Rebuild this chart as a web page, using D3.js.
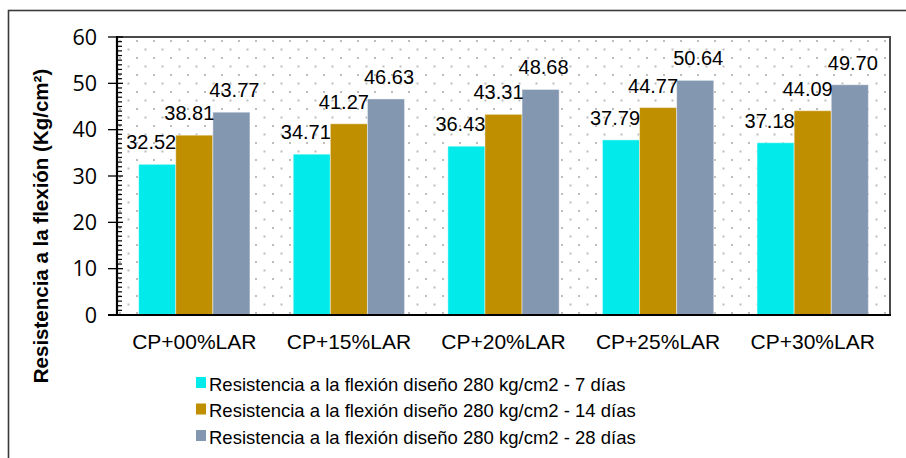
<!DOCTYPE html>
<html><head><meta charset="utf-8">
<script src="https://cdn.jsdelivr.net/npm/d3@7"></script>
<style>body{margin:0;background:#fff}svg{display:block}</style>
</head><body>
<svg id="c" width="906" height="458"></svg>
<script>
const categories = ["CP+00%LAR","CP+15%LAR","CP+20%LAR","CP+25%LAR","CP+30%LAR"];
const seriesNames = [
  "Resistencia a la flexión diseño 280 kg/cm2 - 7 días",
  "Resistencia a la flexión diseño 280 kg/cm2 - 14 días",
  "Resistencia a la flexión diseño 280 kg/cm2 - 28 días"
];
const values7 = [32.52, 34.71, 36.43, 37.79, 37.18];
const values14 = [38.81, 41.27, 43.31, 44.77, 44.09];
const values28 = [43.77, 46.63, 48.68, 50.64, 49.70];
const yTicks = [0, 10, 20, 30, 40, 50, 60];
const colors = ["#03EAEA", "#BF8F00", "#8497B0"];
const labelDx = [-6, -5, 3];

const seriesValues = [values7, values14, values28];
const svg = d3.select("#c");
const L = 117, R = 890, T = 37, B = 315;

const defs = svg.append("defs");
const pat = defs.append("pattern").attr("id","dots").attr("patternUnits","userSpaceOnUse")
  .attr("width",17).attr("height",17).attr("x",L+2).attr("y",T+3);
pat.append("rect").attr("width",17).attr("height",17).attr("fill","#fff");
pat.append("rect").attr("x",0).attr("y",0).attr("width",2).attr("height",2).attr("fill","#bdbdbd");
pat.append("rect").attr("x",8.5).attr("y",8.5).attr("width",2).attr("height",2).attr("fill","#bdbdbd");

// outer border
svg.append("rect").attr("x",8.5).attr("y",10.5).attr("width",920).attr("height",470)
  .attr("fill","#fff").attr("stroke","#3a3a3a").attr("stroke-width",1.6);

const x0 = d3.scaleBand().domain(categories).range([L, R]).paddingInner(0.28).paddingOuter(0.14);
const x1 = d3.scaleBand().domain([0,1,2]).range([0, x0.bandwidth()]);
const y = d3.scaleLinear().domain([0, 60]).range([B, T]);

// plot area
svg.append("rect").attr("x",L).attr("y",T).attr("width",R-L).attr("height",B-T).attr("fill","url(#dots)");
svg.append("path").attr("d",`M${L},${T}H${R}V${B}`).attr("fill","none").attr("stroke","#4a4a4a").attr("stroke-width",2);

// bars
const groups = svg.append("g").selectAll("g").data(categories).join("g")
  .attr("transform", c => `translate(${x0(c)},0)`);
groups.selectAll("rect").data((c,i) => seriesValues.map((s,k)=>({k, v:s[i]}))).join("rect")
  .attr("x", d => x1(d.k)).attr("width", x1.bandwidth())
  .attr("y", d => y(d.v)).attr("height", d => B - y(d.v))
  .attr("fill", d => colors[d.k]).attr("stroke","rgba(255,255,255,0.45)").attr("stroke-width",1);
groups.selectAll("text").data((c,i) => seriesValues.map((s,k)=>({k, v:s[i]}))).join("text")
  .attr("x", d => x1(d.k) + x1.bandwidth()/2 + labelDx[d.k])
  .attr("y", d => y(d.v) - 15)
  .attr("text-anchor","middle").attr("font-family","'Liberation Sans', Arial, sans-serif")
  .attr("font-size",20).attr("fill","#000").text(d => d.v.toFixed(2));

// y axis
const yAxis = svg.append("g").attr("transform",`translate(${L},0)`);
const minor = d3.range(0, 61, 1).filter(v => v % 10 !== 0);
yAxis.selectAll("line.minor").data(minor).join("line").attr("class","minor")
  .attr("x1",0).attr("x2",5).attr("y1",d=>y(d)).attr("y2",d=>y(d)).attr("stroke","#000").attr("stroke-width",1.2);
yAxis.selectAll("line.major").data(yTicks).join("line").attr("class","major")
  .attr("x1",-9).attr("x2",6).attr("y1",d=>y(d)).attr("y2",d=>y(d)).attr("stroke","#000").attr("stroke-width",1.3);
yAxis.append("line").attr("x1",0).attr("x2",0).attr("y1",T-1).attr("y2",B+1).attr("stroke","#000").attr("stroke-width",2.2);
yAxis.selectAll("text").data(yTicks).join("text")
  .attr("x",-20).attr("y",d=>y(d)+7.5).attr("text-anchor","end")
  .attr("font-family","'Open Sans', sans-serif").attr("font-size",21.5).attr("fill","#000").text(d=>d);

// x axis
svg.append("line").attr("x1",L-9).attr("x2",R+1).attr("y1",B).attr("y2",B).attr("stroke","#000").attr("stroke-width",2.2);
svg.append("g").selectAll("text").data(categories).join("text")
  .attr("x", c => x0(c) + x0.bandwidth()/2).attr("y", 349)
  .attr("text-anchor","middle").attr("font-family","'Liberation Sans', Arial, sans-serif")
  .attr("font-size",21).attr("fill","#000").text(c=>c);

// y title
svg.append("text").attr("transform","translate(48,226) rotate(-90)")
  .attr("text-anchor","middle").attr("font-family","'Liberation Sans', Arial, sans-serif")
  .attr("font-weight","bold").attr("font-size",20.5).attr("fill","#000")
  .text("Resistencia a la flexión (Kg/cm²)");

// legend
const lg = svg.append("g").selectAll("g").data(seriesNames).join("g")
  .attr("transform",(d,i)=>`translate(196,${377 + i*26.5})`);
lg.append("rect").attr("width",10).attr("height",11).attr("fill",(d,i)=>colors[i]);
lg.append("text").attr("x",13).attr("y",13.5).attr("font-family","'Liberation Sans', Arial, sans-serif")
  .attr("font-size",18.5).attr("fill","#000").text(d=>d);
</script>
</body></html>
